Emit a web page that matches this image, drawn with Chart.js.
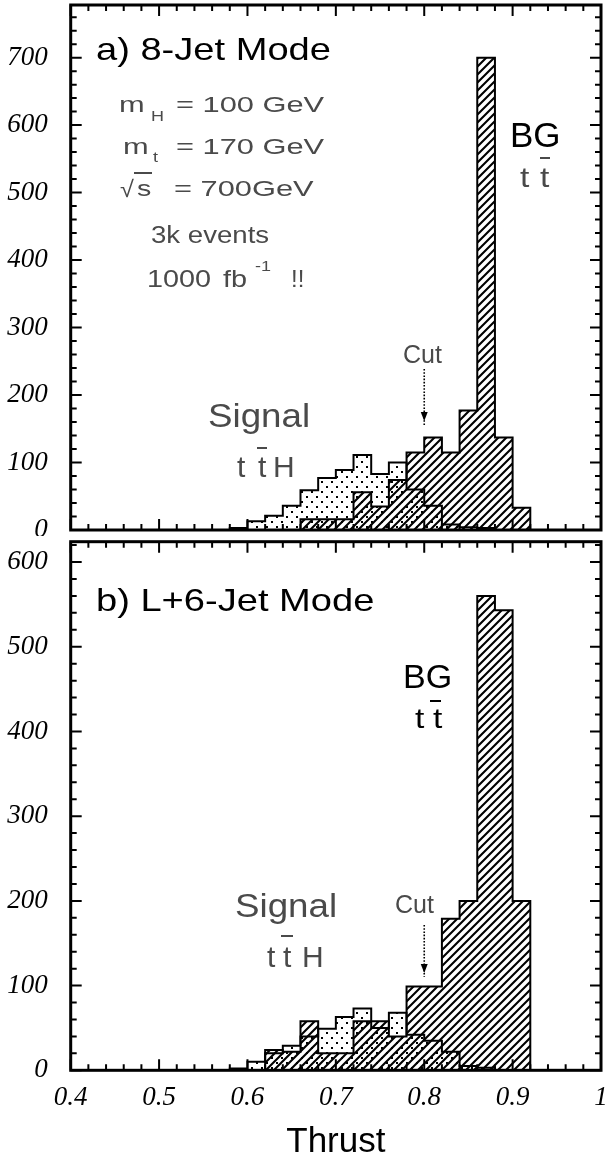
<!DOCTYPE html>
<html><head><meta charset="utf-8">
<script src="https://cdn.jsdelivr.net/npm/chart.js@4.4.1/dist/chart.umd.min.js"></script>
<style>
html,body{margin:0;padding:0;background:#fff;overflow:hidden}
#wrap{position:relative;width:610px;height:1163px;background:#fff}
#c1{position:absolute;left:0;top:0}
#c2{position:absolute;left:0;top:536px}
</style></head><body>
<div id="wrap"><canvas id="c1" width="610" height="536"></canvas><canvas id="c2" width="610" height="627"></canvas></div>
<script>
// ---------------- data ----------------
const binLeft = [0.58,0.60,0.62,0.64,0.66,0.68,0.70,0.72,0.74,0.76,0.78,0.80,0.82,0.84,0.86,0.88,0.90];
const binWidth = 0.02;
// a) 8-Jet mode
const signal8Jet = [3,13,21,36,59,77,89,111,83,100,60,36,8,4,3,0,0];
const bg8Jet     = [0,0,0,0,16,16,16,56,35,74,115,137,115,177,700,137,33];
// b) L+6-Jet mode
const signalL6Jet = [2,10,20,29,40,49,63,73,50,68,42,35,22,5,3,0,0];
const bgL6Jet     = [0,0,24,22,58,20,20,58,58,40,99,99,179,200,560,543,200];

const xTickValues = [0.4,0.5,0.6,0.7,0.8,0.9,1.0];
const xTickLabels = ['0.4','0.5','0.6','0.7','0.8','0.9','1'];
const yTicks8Jet  = [0,100,200,300,400,500,600,700];
const yTicksL6Jet = [0,100,200,300,400,500,600];
const yMax8Jet = 778;
const yMaxL6Jet = 624;
const xMin = 0.4, xMax = 1.0;
const cutValue = 0.8;

// ---------------- helpers ----------------
function histPoints(vals){
  const pts = [{x: binLeft[0], y: 0}];
  vals.forEach((v,i)=>pts.push({x: binLeft[i], y: v}));
  pts.push({x: binLeft[binLeft.length-1] + binWidth, y: 0});
  return pts;
}
function hatchPattern(){
  const s = 8, c = document.createElement('canvas'); c.width = c.height = s;
  const g = c.getContext('2d');
  g.strokeStyle = '#000'; g.lineWidth = 2.1; g.lineCap = 'square';
  g.beginPath();
  g.moveTo(0, s); g.lineTo(s, 0);
  g.moveTo(-s/2, s/2); g.lineTo(s/2, -s/2);
  g.moveTo(s/2, s*1.5); g.lineTo(s*1.5, s/2);
  g.stroke();
  return g.createPattern(c, 'repeat');
}
function dotPattern(){
  const s = 10, c = document.createElement('canvas'); c.width = c.height = s;
  const g = c.getContext('2d');
  g.fillStyle = '#000';
  g.fillRect(1,1,2,2); g.fillRect(6,6,2,2);
  return g.createPattern(c, 'repeat');
}
const SANS = '"Liberation Sans", Arial, sans-serif';
function txt(ctx, s, x, y, size, o){
  o = o || {};
  ctx.save();
  ctx.font = size + 'px ' + SANS;
  ctx.fillStyle = o.color || '#000';
  ctx.textBaseline = 'alphabetic';
  ctx.textAlign = 'left';
  ctx.translate(x, y);
  ctx.scale(o.sx || 1, 1);
  ctx.fillText(s, 0, 0);
  ctx.restore();
}
function bar(ctx, x1, x2, y, color){
  ctx.save(); ctx.fillStyle = color || '#000'; ctx.fillRect(x1, y-1, x2-x1, 2); ctx.restore();
}
function cutArrow(ctx, px, y1, y2){
  ctx.save();
  ctx.strokeStyle = '#000'; ctx.lineWidth = 1.6; ctx.setLineDash([1.6,1.6]);
  ctx.beginPath(); ctx.moveTo(px, y1); ctx.lineTo(px, y2); ctx.stroke();
  ctx.setLineDash([]);
  ctx.fillStyle = '#000';
  ctx.beginPath(); ctx.moveTo(px-3.5, y2-13); ctx.lineTo(px+3.5, y2-13); ctx.lineTo(px, y2-4); ctx.closePath(); ctx.fill();
  ctx.restore();
}
const GREY = '#4a4a4a';

// frame + inward ticks
const framePlugin = {
  id: 'frame',
  afterDatasetsDraw(chart){
    const {ctx, chartArea: a, scales: {x, y}} = chart;
    const yMax = y.max;
    ctx.save();
    ctx.strokeStyle = '#000'; ctx.lineWidth = 2;
    ctx.beginPath();
    for (let k = 0; k <= 30; k++){
      const v = xMin + k*0.02;
      const px = x.getPixelForValue(v);
      const len = (k % 5 === 0) ? 11 : 6;
      ctx.moveTo(px, a.bottom); ctx.lineTo(px, a.bottom - len);
      ctx.moveTo(px, a.top); ctx.lineTo(px, a.top + len);
    }
    for (let v = 0; v <= yMax; v += 20){
      const py = y.getPixelForValue(v);
      const len = (v % 100 === 0) ? 11 : 6;
      ctx.moveTo(a.left, py); ctx.lineTo(a.left + len, py);
      ctx.moveTo(a.right, py); ctx.lineTo(a.right - len, py);
    }
    ctx.stroke();
    ctx.lineWidth = 3;
    ctx.strokeRect(a.left, a.top, a.right - a.left, a.bottom - a.top);
    ctx.restore();
  }
};

const annotPlugin = {
  id: 'annot',
  afterDraw(chart, args, opts){
    if (opts && opts.draw) opts.draw(chart.ctx, chart, opts.off || 0);
  }
};

function makeChart(id, sig, bg, yMax, yTicks, bottomPanel, drawFn, off){
  const ctx = document.getElementById(id);
  return new Chart(ctx, {
    type: 'line',
    data: {
      datasets: [
        {label: 'Signal ttH', data: histPoints(sig), stepped: true, fill: 'origin',
         backgroundColor: dotPattern(), borderColor: '#000', borderWidth: 2, pointRadius: 0, tension: 0},
        {label: 'BG tt', data: histPoints(bg), stepped: true, fill: 'origin',
         backgroundColor: hatchPattern(), borderColor: '#000', borderWidth: 2, pointRadius: 0, tension: 0}
      ]
    },
    options: {
      responsive: false, animation: false, devicePixelRatio: 1,
      layout: {padding: {left: 0, right: 9, top: bottomPanel ? 5.7 : 5, bottom: bottomPanel ? 0 : 6}},
      plugins: {legend: {display: false}, tooltip: {enabled: false}, annot: {draw: drawFn, off: off}},
      scales: {
        x: {
          type: 'linear', min: xMin, max: xMax, display: bottomPanel,
          afterBuildTicks: s => { s.ticks = xTickValues.map(v => ({value: v})); },
          afterFit: s => { s.height = bottomPanel ? 92.7 : 0; s.paddingLeft = 0; s.paddingRight = 0; s.paddingTop = 0; s.paddingBottom = 0; },
          grid: {display: false, drawTicks: false}, border: {display: false},
          ticks: {autoSkip: false, maxRotation: 0, padding: 11, color: '#000',
                  font: {family: '"Liberation Serif", "Times New Roman", serif', style: 'italic', size: 27},
                  callback: (v, i) => xTickLabels[i]},
          title: {display: bottomPanel, text: 'Thrust', color: '#000', padding: {top: 0, bottom: 0},
                  font: {family: SANS, size: 35}}
        },
        y: {
          min: 0, max: yMax,
          afterBuildTicks: s => { s.ticks = yTicks.map(v => ({value: v})); },
          afterFit: s => { s.width = 70.7; s.paddingTop = 0; s.paddingBottom = 0; s.paddingLeft = 0; s.paddingRight = 0; },
          grid: {display: false, drawTicks: false}, border: {display: false},
          ticks: {padding: 23, color: '#000',
                  font: {family: '"Liberation Serif", "Times New Roman", serif', style: 'italic', size: 27}}
        }
      }
    },
    plugins: [framePlugin, annotPlugin]
  });
}

function drawTop(ctx, chart, off){
  const X = chart.scales.x;
  txt(ctx, 'a) 8-Jet Mode', 96, 60, 32, {sx: 1.19});
  // parameters
  txt(ctx, 'm', 119, 112, 22, {sx: 1.4, color: GREY});
  txt(ctx, 'H', 151, 121, 15, {sx: 1.2, color: GREY});
  txt(ctx, '= 100 GeV', 176, 112, 22, {sx: 1.4, color: GREY});
  txt(ctx, 'm', 123, 154, 22, {sx: 1.4, color: GREY});
  txt(ctx, 't', 153, 162, 15, {sx: 1.2, color: GREY});
  txt(ctx, '= 170 GeV', 176, 154, 22, {sx: 1.4, color: GREY});
  txt(ctx, '\u221A', 120, 197, 23, {sx: 1.1, color: GREY});
  txt(ctx, 's', 137, 196, 22, {sx: 1.3, color: GREY});
  bar(ctx, 134, 152, 173, GREY);
  txt(ctx, '= 700GeV', 174, 196, 22, {sx: 1.4, color: GREY});
  txt(ctx, '3k events', 151, 243, 23, {sx: 1.2, color: GREY});
  txt(ctx, '1000', 147, 287, 24, {sx: 1.2, color: GREY});
  txt(ctx, 'fb', 223, 287, 24, {sx: 1.2, color: GREY});
  txt(ctx, '-1', 255, 271, 15, {sx: 1.2, color: GREY});
  txt(ctx, '!!', 291, 287, 24, {sx: 1.0, color: GREY});
  // BG label
  txt(ctx, 'BG', 510, 147, 35);
  txt(ctx, 't', 520, 187, 28, {sx: 1.2, color: GREY});
  txt(ctx, 't', 540, 187, 28, {sx: 1.2, color: GREY});
  bar(ctx, 540, 550, 158, GREY);
  // Signal label
  txt(ctx, 'Signal', 208, 427, 34, {sx: 1.08, color: GREY});
  txt(ctx, 't', 237, 477, 30, {color: GREY});
  txt(ctx, 't', 258, 477, 30, {color: GREY});
  txt(ctx, 'H', 273, 477, 30, {color: GREY});
  bar(ctx, 257, 267, 448, GREY);
  // Cut
  txt(ctx, 'Cut', 403, 363, 25, {color: GREY});
  cutArrow(ctx, X.getPixelForValue(cutValue), 369, 425);
}
function drawBottom(ctx, chart, off){
  const X = chart.scales.x;
  const o = off;
  txt(ctx, 'b) L+6-Jet Mode', 96, 611 - o, 32, {sx: 1.19});
  txt(ctx, 'BG', 403, 688 - o, 34);
  txt(ctx, 't', 415, 728 - o, 28, {sx: 1.2});
  txt(ctx, 't', 433, 728 - o, 28, {sx: 1.2});
  bar(ctx, 430, 441, 701 - o, '#000');
  txt(ctx, 'Signal', 235, 917 - o, 34, {sx: 1.08, color: GREY});
  txt(ctx, 't', 267, 967 - o, 30, {color: GREY});
  txt(ctx, 't', 283, 967 - o, 30, {color: GREY});
  txt(ctx, 'H', 302, 967 - o, 30, {color: GREY});
  bar(ctx, 281, 293, 936 - o, GREY);
  txt(ctx, 'Cut', 395, 913 - o, 25, {color: GREY});
  cutArrow(ctx, X.getPixelForValue(cutValue), 925 - o, 977 - o);
}

makeChart('c1', signal8Jet, bg8Jet, yMax8Jet, yTicks8Jet, false, drawTop, 0);
makeChart('c2', signalL6Jet, bgL6Jet, yMaxL6Jet, yTicksL6Jet, true, drawBottom, 536);
</script>
</body></html>
